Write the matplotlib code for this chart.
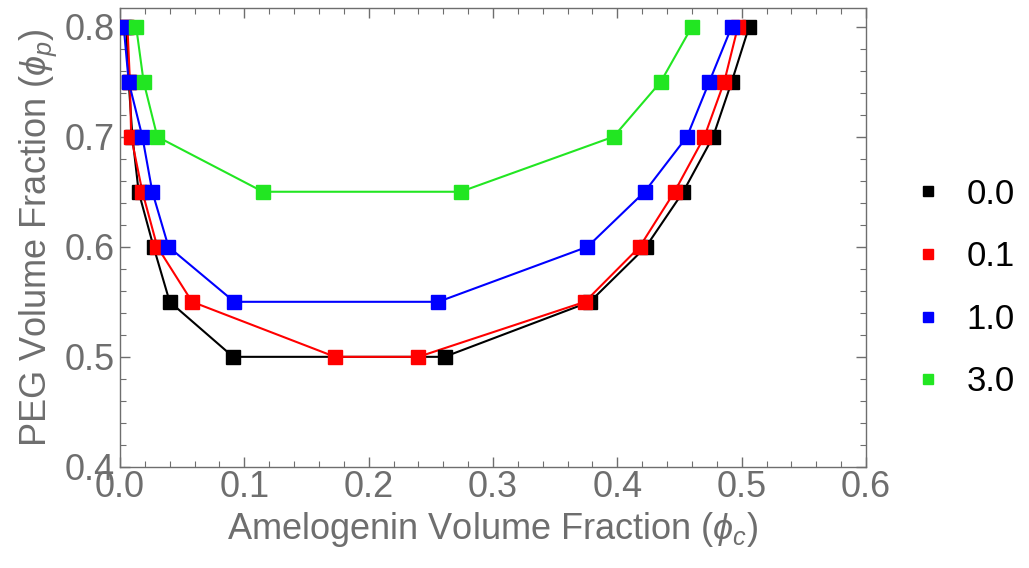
import matplotlib
matplotlib.use('Agg')
from matplotlib import pyplot as plt
from matplotlib.ticker import MultipleLocator, FormatStrFormatter

plt.rcParams['font.family'] = ['Liberation Sans', 'DejaVu Sans']
plt.rcParams['mathtext.fontset'] = 'custom'
plt.rcParams['mathtext.it'] = 'Liberation Sans:italic'
plt.rcParams['mathtext.rm'] = 'Liberation Sans'

# PEG volume fraction levels (left branch top->bottom, then right branch bottom->top)
labels = ['0.0', '0.1', '1.0', '3.0']
colors = ['black', '#ff0000', '#0000ff', '#22e622']

x_00 = [0.005, 0.007, 0.010, 0.015, 0.027, 0.040, 0.091, 0.261, 0.378, 0.423, 0.453, 0.477, 0.492, 0.506]
y_00 = [0.80, 0.75, 0.70, 0.65, 0.60, 0.55, 0.50, 0.50, 0.55, 0.60, 0.65, 0.70, 0.75, 0.80]

x_01 = [0.006, 0.008, 0.009, 0.018, 0.030, 0.058, 0.173, 0.240, 0.374, 0.418, 0.446, 0.470, 0.486, 0.497]
y_01 = [0.80, 0.75, 0.70, 0.65, 0.60, 0.55, 0.50, 0.50, 0.55, 0.60, 0.65, 0.70, 0.75, 0.80]

x_10 = [0.003, 0.007, 0.018, 0.026, 0.039, 0.092, 0.256, 0.376, 0.422, 0.456, 0.474, 0.492]
y_10 = [0.80, 0.75, 0.70, 0.65, 0.60, 0.55, 0.55, 0.60, 0.65, 0.70, 0.75, 0.80]

x_30 = [0.013, 0.019, 0.030, 0.115, 0.274, 0.397, 0.435, 0.460]
y_30 = [0.80, 0.75, 0.70, 0.65, 0.65, 0.70, 0.75, 0.80]

series = [(x_00, y_00), (x_01, y_01), (x_10, y_10), (x_30, y_30)]

fig = plt.figure(figsize=(10.29, 5.68), dpi=100)
ax = fig.add_axes([0.1166, 0.178, 0.725, 0.808])

for (xs, ys), c, lab in zip(series, colors, labels):
    ax.plot(xs, ys, color=c, lw=1.5, zorder=2)
    ax.plot(xs, ys, ls='none', marker='s', ms=10, color=c, mec=c, label=lab, zorder=3)

ax.set_xlim(0, 0.6)
ax.set_ylim(0.4, 0.817)
ax.xaxis.set_major_locator(MultipleLocator(0.1))
ax.xaxis.set_minor_locator(MultipleLocator(0.02))
ax.yaxis.set_major_locator(MultipleLocator(0.1))
ax.yaxis.set_minor_locator(MultipleLocator(0.02))
ax.xaxis.set_major_formatter(FormatStrFormatter('%.1f'))
ax.yaxis.set_major_formatter(FormatStrFormatter('%.1f'))

gray = '#6e6e6e'
ax.tick_params(which='both', direction='in', top=True, right=True, colors=gray,
               labelcolor=gray, labelsize=26)
ax.tick_params(which='major', length=7, width=1)
ax.tick_params(which='minor', length=4, width=0.8)
ax.tick_params(axis='x', pad=2)
ax.tick_params(axis='y', pad=4)
for sp in ax.spines.values():
    sp.set_color(gray)
    sp.set_linewidth(1)

ax.set_xlabel(r'Amelogenin Volume Fraction ($\phi_c$)', fontsize=26, color=gray, labelpad=4)
ax.set_ylabel(r'PEG Volume Fraction ($\phi_p$)', fontsize=26, color=gray, labelpad=4)

handles, labs = ax.get_legend_handles_labels()
leg = ax.legend(handles, labs, loc='center left', bbox_to_anchor=(1.016, 0.39), frameon=False,
                fontsize=25, markerscale=0.7, handlelength=1.1, handletextpad=0.55,
                labelspacing=0.85)

fig.savefig('out.png', dpi=100)
